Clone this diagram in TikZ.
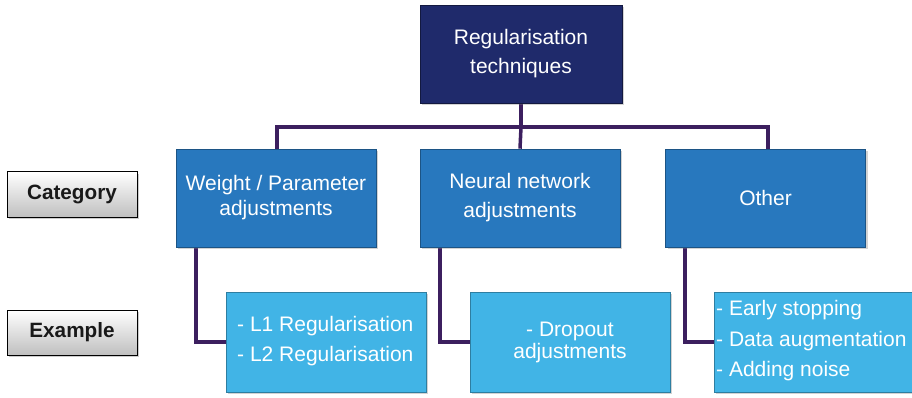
\documentclass[tikz,border=0pt]{standalone}
\usepackage{fontspec}
\setmainfont{Liberation Sans}
\usetikzlibrary{shadows}
\pgfdeclarelayer{background}
\pgfsetlayers{background,main}
\definecolor{navy}{HTML}{1F2A6B}
\definecolor{midblue}{HTML}{2878BE}
\definecolor{lightblue}{HTML}{41B4E6}
\definecolor{linkc}{HTML}{3C1F5F}
\tikzset{
  base/.style={line width=0.6pt, inner sep=0pt, text=white,
     font=\fontsize{21}{25}\selectfont, align=center,
     drop shadow={shadow xshift=2pt, shadow yshift=-2pt, opacity=0.35}},
  topbox/.style={base, fill=navy, minimum width=202pt, minimum height=98pt, draw=navy!60!black},
  catbox/.style={base, fill=midblue, minimum width=200pt, minimum height=98pt, draw=midblue!70!black},
  exbox/.style={base, fill=lightblue, minimum width=200pt, minimum height=100pt, draw=lightblue!70!black},
  labbox/.style={draw=black, line width=1pt, top color=white, bottom color=black!25,
     minimum width=130pt, minimum height=45pt, inner sep=0pt,
     font=\fontsize{20.7}{24}\selectfont\bfseries, text=black!90,
     drop shadow={shadow xshift=2pt, shadow yshift=-2pt, opacity=0.4}},
  link/.style={draw=linkc, line width=3.5pt},
  txt/.style={text=white, inner sep=0pt, align=left, anchor=west}
}
\begin{document}
\begin{tikzpicture}[x=1pt,y=-1pt]
\useasboundingbox (0,0) rectangle (912,398);
\node[topbox] (top) at (521,54) {Regularisation\\[4pt]techniques};
\node[catbox] (c1) at (276,198) {Weight / Parameter\\adjustments};
\node[catbox] (c2) at (520,198) {Neural network\\[4pt]adjustments};
\node[catbox] (c3) at (765.5,198) {Other};
\node[exbox] (e1) at (326,342) {};
\node[exbox] (e2) at (570,342) {- Dropout\\[-3pt]adjustments};
\node[exbox] (e3) at (814,342) {};
\node[txt, font=\fontsize{21}{30}\selectfont] (t1) at (237,341) {- L1 Regularisation\\- L2 Regularisation};
\node[txt, font=\fontsize{21}{30.5}\selectfont] (t3) at (716,341) {- Early stopping\\- Data augmentation\\- Adding noise};
\node[labbox] (cat) at (72,194.5) {Category};
\node[labbox] (ex) at (72,332.5) {Example};
\coordinate (j0) at (521,127);
\coordinate (jl) at (277,127);
\coordinate (jr) at (768,127);
\coordinate (d1) at (196,0);
\coordinate (d2) at (440,0);
\coordinate (d3) at (685,0);
\begin{pgfonlayer}{background}
\draw[link] (top.south) -- (j0);
\draw[link] (jl |- c1.north) -- (jl) -- (jr) -- (jr |- c3.north);
\draw[link] (j0) -- (c2.north);
\draw[link] (d1 |- c1.south) |- (e1.west);
\draw[link] (d2 |- c2.south) |- (e2.west);
\draw[link] (d3 |- c3.south) |- (e3.west);
\end{pgfonlayer}
\end{tikzpicture}
\end{document}
